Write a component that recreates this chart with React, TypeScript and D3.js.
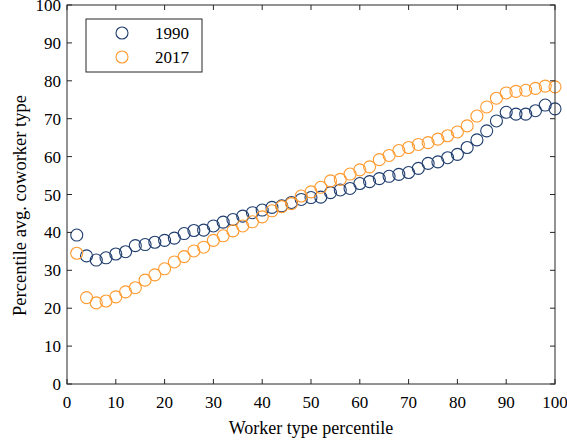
import React from "react";
import * as d3 from "d3";

const xs = d3.range(2, 101, 2);
const y1990 = [39.3, 33.8, 32.7, 33.3, 34.3, 34.9, 36.5, 36.8, 37.4, 37.9, 38.5, 39.7, 40.5, 40.6, 41.7, 42.7, 43.4, 44.3, 45.2, 45.9, 46.6, 47.0, 47.9, 48.7, 49.2, 49.3, 50.5, 51.2, 51.6, 52.9, 53.4, 54.2, 54.8, 55.3, 55.8, 56.9, 58.2, 58.6, 59.7, 60.6, 62.4, 64.4, 66.8, 69.4, 71.7, 71.2, 71.2, 72.1, 73.6, 72.6];
const y2017 = [34.5, 22.8, 21.4, 21.9, 23.0, 24.3, 25.4, 27.4, 28.8, 30.4, 32.2, 33.6, 35.1, 36.1, 37.9, 39.1, 40.4, 41.7, 42.8, 44.1, 45.7, 46.8, 47.6, 49.6, 50.7, 51.9, 53.6, 54.0, 55.4, 56.5, 57.3, 59.2, 60.3, 61.6, 62.4, 63.2, 63.7, 64.6, 65.5, 66.5, 68.1, 70.7, 73.1, 75.4, 76.8, 77.2, 77.5, 78.0, 78.6, 78.4];
const xTicks = [0, 10, 20, 30, 40, 50, 60, 70, 80, 90, 100];
const yTicks = [0, 10, 20, 30, 40, 50, 60, 70, 80, 90, 100];
const seriesNames = ["1990", "2017"];

const W = 567, H = 444;
const L = 67, R = 555, T = 5, B = 384;
const BLUE = "#1f3d6e";
const ORANGE = "#ff9a2e";
const AX = "#262626";
const FONT = "'Liberation Serif', 'Times New Roman', serif";

export default function App() {
  const x = d3.scaleLinear().domain([0, 100]).range([L, R]);
  const y = d3.scaleLinear().domain([0, 100]).range([B, T]);
  const tl = 5;
  const series = [
    { name: seriesNames[0], vals: y1990, color: BLUE },
    { name: seriesNames[1], vals: y2017, color: ORANGE },
  ];
  return (
    <svg width={W} height={H} style={{ position: "absolute", left: 0, top: 0, background: "#fff" }}>
      <rect x={0} y={0} width={W} height={H} fill="#fff" />
      {series.map((s) =>
        s.vals.map((v, i) => (
          <circle key={s.name + i} cx={x(xs[i])} cy={y(v)} r={6} fill="none" stroke={s.color} strokeWidth={1.1} />
        ))
      )}
      <g stroke={AX} strokeWidth={1} fill="none">
        <rect x={L} y={T} width={R - L} height={B - T} />
        {xTicks.map((t) => (
          <g key={"xt" + t}>
            <line x1={x(t)} x2={x(t)} y1={B} y2={B - tl} />
            <line x1={x(t)} x2={x(t)} y1={T} y2={T + tl} />
          </g>
        ))}
        {yTicks.map((t) => (
          <g key={"yt" + t}>
            <line x1={L} x2={L + tl} y1={y(t)} y2={y(t)} />
            <line x1={R} x2={R - tl} y1={y(t)} y2={y(t)} />
          </g>
        ))}
      </g>
      <g fontFamily={FONT} fontSize={17} fill="#000">
        {xTicks.map((t) => (
          <text key={"xl" + t} x={x(t)} y={B + 24} textAnchor="middle">{t}</text>
        ))}
        {yTicks.map((t) => (
          <text key={"yl" + t} x={L - 6} y={y(t) + 6} textAnchor="end">{t}</text>
        ))}
        <text x={(L + R) / 2} y={434} textAnchor="middle" fontSize={18}>Worker type percentile</text>
        <text transform={`translate(26,${(T + B) / 2 + 11}) rotate(-90)`} textAnchor="middle" fontSize={18.5}>Percentile avg. coworker type</text>
      </g>
      <g>
        <rect x={86} y={19} width={116} height={53} fill="#fff" stroke={AX} strokeWidth={1} />
        {series.map((s, i) => (
          <g key={"lg" + s.name}>
            <circle cx={122} cy={33 + i * 24} r={6} fill="none" stroke={s.color} strokeWidth={1.1} />
            <text x={189} y={39 + i * 24} textAnchor="end" fontFamily={FONT} fontSize={17} fill="#000">{s.name}</text>
          </g>
        ))}
      </g>
    </svg>
  );
}
